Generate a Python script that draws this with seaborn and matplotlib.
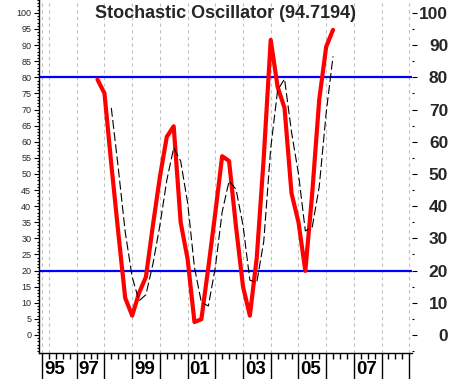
import numpy as np
import pandas as pd
import matplotlib
matplotlib.use("Agg")
import matplotlib.pyplot as plt
import matplotlib.dates as mdates
import matplotlib.transforms as mtrans
import seaborn as sns

# quarterly %K (red) and %D (black dashed)
k_dates = pd.date_range("1997-10-01", "2006-04-01", freq="QS")
k_values = [79.3, 75.0, 53, 32, 11.5, 6.0, 13, 18, 34, 49,
            61.5, 64.8, 35, 23.5, 4.0, 4.9, 21, 38, 55.5, 54,
            33.5, 15, 6.0, 24, 55, 91.6, 77, 70.5, 44, 35,
            19.9, 44, 73, 89.5, 94.72]
d_dates = pd.date_range("1998-04-01", "2006-04-01", freq="QS")
d_values = [70.5, 52, 32, 18, 10.6, 12.5, 22, 34, 48, 58.1,
            54, 41, 21, 10.1, 9, 21, 38.2, 47.8, 45.2, 34,
            17, 16.3, 29, 58, 76, 79.5, 63, 50, 32.3, 33.5,
            46, 69, 86.5]
levels = [80, 20]
title = "Stochastic Oscillator (94.7194)"
year_labels = ["95", "97", "99", "01", "03", "05", "07", "09"]
year_label_dates = ["1995-10-01", "1997-01-01", "1999-01-01", "2001-01-01",
                    "2003-01-01", "2005-01-01", "2007-01-01", "2009-01-01"]

sns.set_style("white")
plt.rcParams["font.family"] = ["Liberation Sans", "DejaVu Sans"]

fig = plt.figure(figsize=(4.51, 3.79), dpi=100)
ax = fig.add_axes([39 / 451, 1 - 353 / 379, 373 / 451, 353 / 379])

# year grid lines
year_ticks = pd.to_datetime(["1995-10-01"] + [f"{y}-01-01" for y in range(1996, 2010)])
for d in year_ticks:
    ax.axvline(d, color="#c0c0c0", lw=0.8, ls=(0, (3, 3)), zorder=0)

for lv in levels:
    ax.axhline(lv, color="#0000ff", lw=1.6, zorder=2)

kdf = pd.DataFrame({"date": k_dates, "k": k_values})
ddf = pd.DataFrame({"date": d_dates, "d": d_values})
sns.lineplot(data=kdf, x="date", y="k", ax=ax, color="#ff0000", lw=3.0, zorder=3)
sns.lineplot(data=ddf, x="date", y="d", ax=ax, color="black", lw=0.8,
             dashes=False, zorder=4)
ax.lines[-1].set_linestyle((0, (8, 3)))

ax.set_xlim(pd.Timestamp("1995-08-22"), pd.Timestamp("2009-02-05"))
ax.set_ylim(-5.6, 104.0)
ax.set_xlabel("")
ax.set_ylabel("")

# x axis ticks
major_x = pd.to_datetime(["1995-10-01"] + [f"{y}-01-01" for y in range(1997, 2010)])
minor_x = pd.date_range("1995-10-01", "2009-01-01", freq="QS")
ax.set_xticks(major_x)
ax.set_xticklabels([])
ax.set_xticks(minor_x, minor=True)
ax.tick_params(axis="x", which="major", length=19, width=1, direction="out",
               color="black", bottom=True)
ax.tick_params(axis="x", which="minor", length=4.3, width=1, direction="out",
               color="black", bottom=True)

trans = mtrans.blended_transform_factory(ax.transData, ax.transAxes)
clip = mtrans.TransformedBbox(mtrans.Bbox([[0, 0], [1, 1]]),
                              mtrans.blended_transform_factory(ax.transAxes, fig.transFigure))
for lab, d in zip(year_labels, year_label_dates):
    t = ax.text(mdates.date2num(pd.Timestamp(d)), 0, lab,
                transform=mtrans.offset_copy(trans, fig=fig, x=2, y=-16, units="dots"),
                ha="left", va="center", fontsize=13.5, fontweight="bold", color="black")
    t.set_clip_box(clip)
    t.set_clip_on(True)

# left y axis
ax.set_yticks(np.arange(0, 101, 5))
ax.set_yticklabels([str(v) for v in range(0, 101, 5)], fontsize=6.5)
ax.set_yticks(np.arange(-5, 105, 1), minor=True)
ax.tick_params(axis="y", which="major", length=3.6, width=0.8, pad=2, direction="out",
               color="black", left=True)
ax.tick_params(axis="y", which="minor", length=1.8, width=0.8, direction="out",
               color="black", left=True)

for s in ["top", "right"]:
    ax.spines[s].set_visible(False)
for s in ["left", "bottom"]:
    ax.spines[s].set_color("black")
    ax.spines[s].set_linewidth(1)

# right y axis
ax2 = ax.twinx()
ax2.set_ylim(ax.get_ylim())
ax2.set_yticks(np.arange(0, 101, 10))
ax2.set_yticklabels([str(v) for v in range(0, 101, 10)], fontsize=12.5, fontweight="bold")
ax2.set_yticks(np.arange(-5, 100, 10), minor=True)
ax2.tick_params(axis="y", which="major", length=3.6, width=0.8, pad=22.5, direction="out",
                color="black", right=True)
ax2.tick_params(axis="y", which="minor", length=1.5, width=0.8, direction="out",
                color="black", right=True)
for lab in ax2.get_yticklabels():
    lab.set_horizontalalignment("right")
for s in ax2.spines.values():
    s.set_visible(False)

ax.text(0.5, 1 - 13 / 353, title, transform=ax.transAxes, ha="center", va="center",
        fontsize=13, fontweight="bold", zorder=10)

fig.savefig("out.png", dpi=100)
